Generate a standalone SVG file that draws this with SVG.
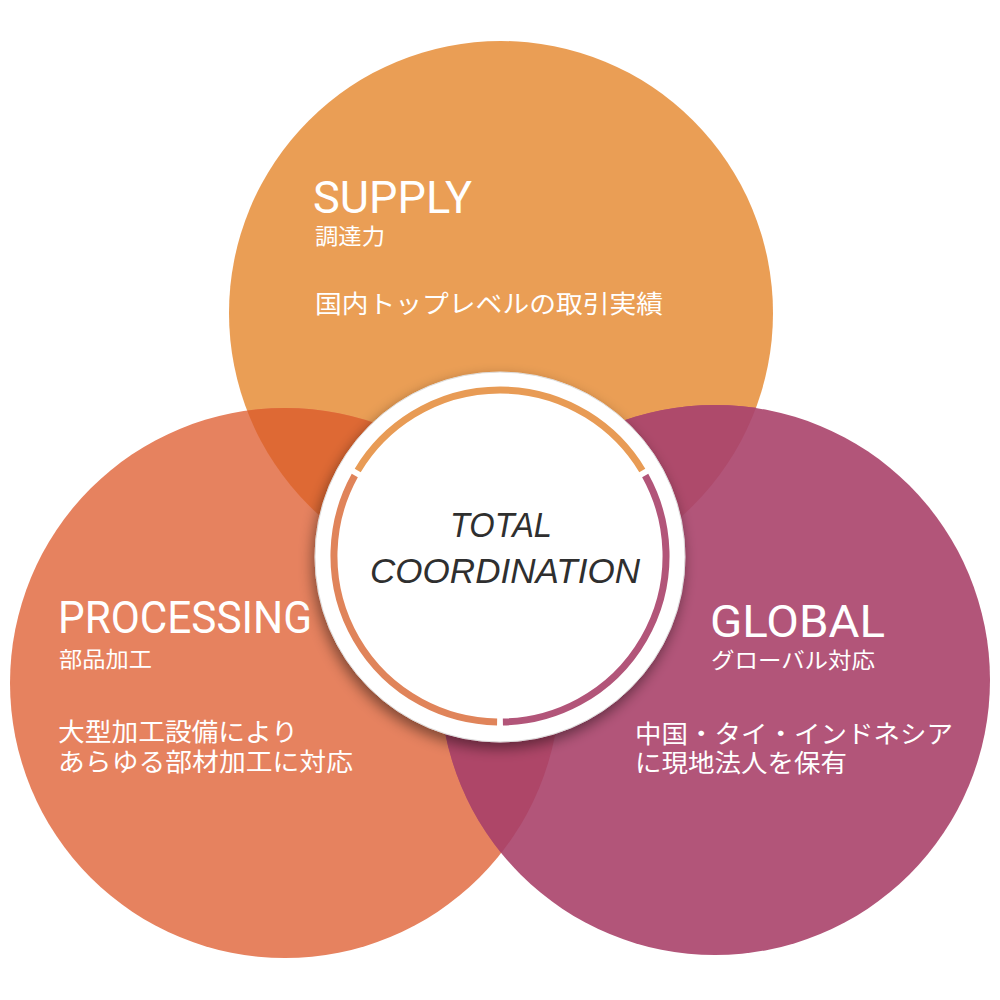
<svg xmlns="http://www.w3.org/2000/svg" width="1000" height="1000" viewBox="0 0 1000 1000">
  <defs>
    <style>
      .head { font-family: Roboto, "Liberation Sans", "Noto Sans", sans-serif; fill: #ffffff; font-size: 44px; }
      .sub { font-family: "Noto Sans CJK JP", "Noto Sans", sans-serif; fill: #ffffff; font-size: 22px; }
      .body { font-family: "Noto Sans CJK JP", "Noto Sans", sans-serif; fill: #ffffff; font-size: 25px; }
      .center { font-family: "Liberation Sans", Arial, sans-serif; font-style: italic; fill: #2f2f2f; font-size: 35px; }
      .arc { fill: none; stroke-width: 7; }
    </style>
    <clipPath id="clipOrange"><circle cx="501" cy="313" r="272"/></clipPath>
    <clipPath id="clipCoral"><circle cx="285" cy="683" r="275"/></clipPath>
    <filter id="shadow" x="-20%" y="-20%" width="140%" height="140%">
      <feDropShadow dx="-2" dy="6" stdDeviation="7" flood-color="#000000" flood-opacity="0.45"/>
    </filter>
  </defs>

  <g id="supply">
    <circle cx="501" cy="313" r="272" fill="#EA9E55"/>
  </g>
  <g id="processing">
    <circle cx="285" cy="683" r="275" fill="#E6825F"/>
  </g>
  <g id="global">
    <circle cx="715" cy="680" r="275" fill="#B25579"/>
  </g>

  <g id="overlaps">
    <circle cx="285" cy="683" r="275" fill="#DE6934" clip-path="url(#clipOrange)"/>
    <circle cx="715" cy="680" r="275" fill="#AE4A6B" clip-path="url(#clipOrange)"/>
    <circle cx="715" cy="680" r="275" fill="#AE4668" clip-path="url(#clipCoral)"/>
  </g>

  <g id="supply-text">
    <text class="head" x="313" y="213" textLength="159" lengthAdjust="spacingAndGlyphs">SUPPLY</text>
    <text class="sub" x="315" y="244" textLength="70" lengthAdjust="spacingAndGlyphs">調達力</text>
    <text class="body" x="315" y="313" textLength="348" lengthAdjust="spacingAndGlyphs">国内トップレベルの取引実績</text>
  </g>
  <g id="processing-text">
    <text class="head" x="58" y="633" textLength="254" lengthAdjust="spacingAndGlyphs">PROCESSING</text>
    <text class="sub" x="59" y="667" textLength="93" lengthAdjust="spacingAndGlyphs">部品加工</text>
    <text class="body" x="58" y="741" textLength="240" lengthAdjust="spacingAndGlyphs">大型加工設備により</text>
    <text class="body" x="58" y="771" textLength="295" lengthAdjust="spacingAndGlyphs">あらゆる部材加工に対応</text>
  </g>
  <g id="global-text">
    <text class="head" x="710" y="637" textLength="175" lengthAdjust="spacingAndGlyphs">GLOBAL</text>
    <text class="sub" x="711" y="668" textLength="164" lengthAdjust="spacingAndGlyphs">グローバル対応</text>
    <text class="body" x="635" y="743" textLength="318" lengthAdjust="spacingAndGlyphs">中国・タイ・インドネシア</text>
    <text class="body" x="635" y="772" textLength="212" lengthAdjust="spacingAndGlyphs">に現地法人を保有</text>
  </g>

  <g id="center">
    <circle cx="500" cy="557" r="185" fill="#ffffff" stroke="#dddddd" stroke-width="1" filter="url(#shadow)"/>
    <!-- orange arc: 211deg to 329deg, r=166 around (500,556) -->
    <path class="arc" stroke="#E89B55" d="M 357.7 470.5 A 166 166 0 0 1 642.3 470.5"/>
    <!-- magenta arc: 331deg to 449deg -->
    <path class="arc" stroke="#B25579" d="M 645.2 475.5 A 166 166 0 0 1 502.9 722"/>
    <!-- coral arc: 91deg to 209deg -->
    <path class="arc" stroke="#E0845A" d="M 497.1 722 A 166 166 0 0 1 354.8 475.5"/>
    <text class="center" x="450" y="537" textLength="102" lengthAdjust="spacingAndGlyphs">TOTAL</text>
    <text class="center" x="370" y="583" textLength="270" lengthAdjust="spacingAndGlyphs">COORDINATION</text>
  </g>
</svg>
